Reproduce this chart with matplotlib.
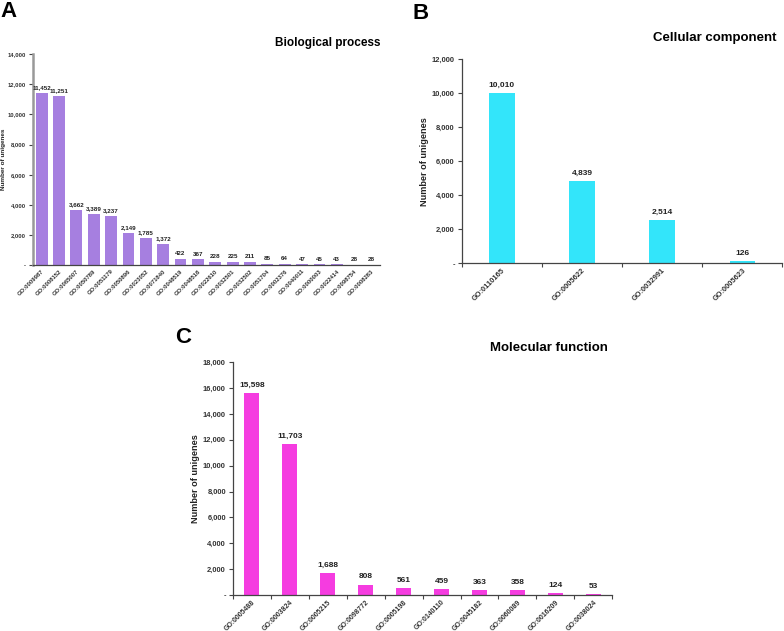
import matplotlib as mpl
import matplotlib.pyplot as plt
import numpy as np
from matplotlib.ticker import FuncFormatter, FixedLocator

mpl.rcParams['font.family'] = ['Liberation Sans', 'DejaVu Sans']

# ---- data ----
bp_terms = ["GO:0009987", "GO:0008152", "GO:0065007", "GO:0050789", "GO:0051179",
            "GO:0050896", "GO:0023052", "GO:0071840", "GO:0048519", "GO:0048518",
            "GO:0022610", "GO:0032501", "GO:0032502", "GO:0051704", "GO:0002376",
            "GO:0040011", "GO:0000003", "GO:0022414", "GO:0098754", "GO:0008283"]
bp_counts = [11452, 11251, 3662, 3389, 3237, 2149, 1785, 1372, 422, 367,
             228, 225, 211, 85, 64, 47, 45, 43, 28, 28]

cc_terms = ["GO:0110165", "GO:0005622", "GO:0032991", "GO:0005623"]
cc_counts = [10010, 4839, 2514, 126]

mf_terms = ["GO:0005488", "GO:0003824", "GO:0005215", "GO:0098772", "GO:0005198",
            "GO:0140110", "GO:0045182", "GO:0060089", "GO:0016209", "GO:0038024"]
mf_counts = [15598, 11703, 1688, 808, 561, 459, 363, 358, 124, 53]


def acct(v, pos=None):
    # excel accounting style: zero shows as a dash
    return "-" if v == 0 else "{:,.0f}".format(v)


def panel(rect, terms, counts, color, ymax, bar_w, tick_fs, xtick_fs, val_fs, ylab_fs,
          ylab_pad, boundary_ticks, yspine_color="#444444", yspine_lw=0.9, val_off=3):
    ax = fig.add_axes(rect)
    x = np.arange(len(terms))
    ax.bar(x, counts, width=bar_w, color=color, zorder=2)
    for xi, v in zip(x, counts):
        ax.annotate("{:,}".format(v), (xi, v), xytext=(0, val_off), textcoords="offset points",
                    ha="center", va="bottom", fontsize=val_fs, fontweight="bold", color="#222222")
    ax.set_xlim(-0.5, len(terms) - 0.5)
    ax.set_ylim(0, ymax)
    ax.set_yticks(np.arange(0, ymax + 1, 2000))
    ax.yaxis.set_major_formatter(FuncFormatter(acct))
    ax.set_xticks(x)
    ax.set_xticklabels(terms, rotation=45, ha="right", rotation_mode="anchor",
                       fontsize=xtick_fs, color="#333333")
    ax.tick_params(axis="x", length=0, pad=2.5)
    if boundary_ticks:
        ax.xaxis.set_minor_locator(FixedLocator(np.arange(-0.5, len(terms), 1.0)))
        ax.tick_params(axis="x", which="minor", length=3, width=0.8, color="#444444")
    ax.tick_params(axis="y", labelsize=tick_fs, length=3, width=0.8, color="#444444", pad=2)
    for lab in ax.get_yticklabels():
        lab.set_fontweight("bold")
        lab.set_color("#333333")
    for lab in ax.get_xticklabels():
        lab.set_fontweight("bold")
    ax.spines["top"].set_visible(False)
    ax.spines["right"].set_visible(False)
    ax.spines["left"].set_color(yspine_color)
    ax.spines["left"].set_linewidth(yspine_lw)
    ax.spines["bottom"].set_color("#444444")
    ax.spines["bottom"].set_linewidth(0.9)
    ax.set_ylabel("Number of unigenes", fontsize=ylab_fs, fontweight="bold",
                  labelpad=ylab_pad, color="#222222")
    return ax


fig = plt.figure(figsize=(7.84, 6.31), dpi=100)

panel([0.042, 0.580, 0.443, 0.334], bp_terms, bp_counts, "#a67fe0", 14000, 0.68,
      4.2, 4.2, 4.5, 4.6, 1, False, yspine_color="#999999", yspine_lw=1.8, val_off=2)
panel([0.589, 0.583, 0.409, 0.323], cc_terms, cc_counts, "#33e5fa", 12000, 0.32,
      5.4, 5.4, 6.0, 6.6, 2, True)
panel([0.297, 0.057, 0.484, 0.369], mf_terms, mf_counts, "#f53ce0", 18000, 0.4,
      5.4, 5.0, 6.0, 6.6, 2, True)

fig.text(0.485, 0.932, "Biological process", ha="right", va="center",
         fontsize=8.5, fontweight="bold")
fig.text(0.991, 0.940, "Cellular component", ha="right", va="center",
         fontsize=9.5, fontweight="bold")
fig.text(0.775, 0.448, "Molecular function", ha="right", va="center",
         fontsize=9.5, fontweight="bold")

fig.text(0.000, 0.982, "A", ha="left", va="center", fontsize=16, fontweight="bold")
fig.text(0.526, 0.979, "B", ha="left", va="center", fontsize=16, fontweight="bold")
fig.text(0.223, 0.465, "C", ha="left", va="center", fontsize=16, fontweight="bold")

fig.savefig("out.png", dpi=100, facecolor="white")
